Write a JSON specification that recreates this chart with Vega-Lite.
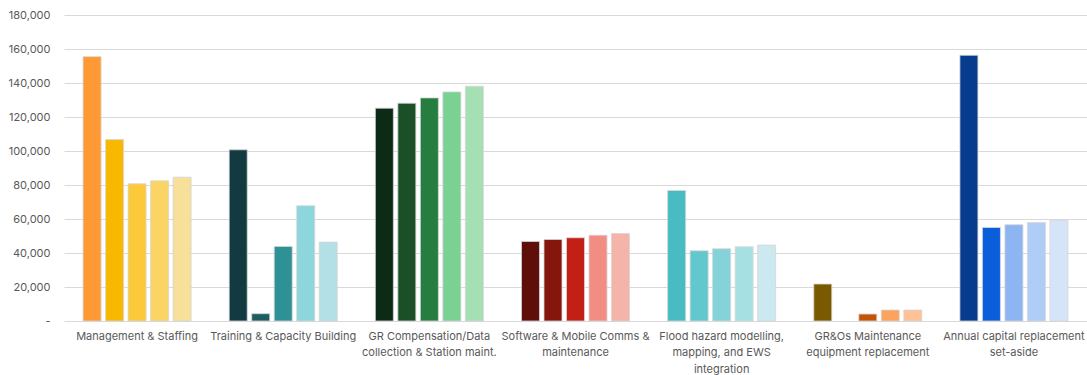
{
  "$schema": "https://vega.github.io/schema/vega-lite/v6.json",
  "autosize": "none",
  "width": 1023,
  "height": 306,
  "padding": {"left": 64, "top": 15, "right": 0, "bottom": 54},
  "background": "white",
  "config": {"view": {"stroke": null}, "font": "Inter"},
  "data": {"values": [
    {"cat": "Management & Staffing", "s": "Y1", "v": 155500, "c": "#FF9933"},
    {"cat": "Management & Staffing", "s": "Y2", "v": 106700, "c": "#F9B800"},
    {"cat": "Management & Staffing", "s": "Y3", "v": 80700, "c": "#FCC93A"},
    {"cat": "Management & Staffing", "s": "Y4", "v": 82450, "c": "#FAD565"},
    {"cat": "Management & Staffing", "s": "Y5", "v": 84600, "c": "#F7E09A"},
    {"cat": "Training & Capacity Building", "s": "Y1", "v": 100700, "c": "#133A40"},
    {"cat": "Training & Capacity Building", "s": "Y2", "v": 4300, "c": "#1E5E60"},
    {"cat": "Training & Capacity Building", "s": "Y3", "v": 43850, "c": "#2E9196"},
    {"cat": "Training & Capacity Building", "s": "Y4", "v": 67750, "c": "#8DD6DC"},
    {"cat": "Training & Capacity Building", "s": "Y5", "v": 46400, "c": "#B3E0E6"},
    {"cat": "GR Compensation/Data|collection & Station maint.", "s": "Y1", "v": 125200, "c": "#0D2A17"},
    {"cat": "GR Compensation/Data|collection & Station maint.", "s": "Y2", "v": 128100, "c": "#1A4F28"},
    {"cat": "GR Compensation/Data|collection & Station maint.", "s": "Y3", "v": 131250, "c": "#257E40"},
    {"cat": "GR Compensation/Data|collection & Station maint.", "s": "Y4", "v": 134750, "c": "#79D292"},
    {"cat": "GR Compensation/Data|collection & Station maint.", "s": "Y5", "v": 138100, "c": "#A5E0B4"},
    {"cat": "Software & Mobile Comms &|maintenance", "s": "Y1", "v": 46800, "c": "#5E0F0A"},
    {"cat": "Software & Mobile Comms &|maintenance", "s": "Y2", "v": 47950, "c": "#84160E"},
    {"cat": "Software & Mobile Comms &|maintenance", "s": "Y3", "v": 48950, "c": "#C41F17"},
    {"cat": "Software & Mobile Comms &|maintenance", "s": "Y4", "v": 50500, "c": "#F28D84"},
    {"cat": "Software & Mobile Comms &|maintenance", "s": "Y5", "v": 51500, "c": "#F4B4AA"},
    {"cat": "Flood hazard modelling,|mapping, and EWS|integration", "s": "Y1", "v": 76750, "c": "#48BBC3"},
    {"cat": "Flood hazard modelling,|mapping, and EWS|integration", "s": "Y2", "v": 41300, "c": "#63C7CE"},
    {"cat": "Flood hazard modelling,|mapping, and EWS|integration", "s": "Y3", "v": 42500, "c": "#83D3D8"},
    {"cat": "Flood hazard modelling,|mapping, and EWS|integration", "s": "Y4", "v": 43650, "c": "#A6E0E2"},
    {"cat": "Flood hazard modelling,|mapping, and EWS|integration", "s": "Y5", "v": 44650, "c": "#CDE9F0"},
    {"cat": "GR&Os Maintenance|equipment replacement", "s": "Y1", "v": 21750, "c": "#7A5A00"},
    {"cat": "GR&Os Maintenance|equipment replacement", "s": "Y3", "v": 4100, "c": "#C45508"},
    {"cat": "GR&Os Maintenance|equipment replacement", "s": "Y4", "v": 6450, "c": "#FDA35E"},
    {"cat": "GR&Os Maintenance|equipment replacement", "s": "Y5", "v": 6450, "c": "#FFC296"},
    {"cat": "Annual capital replacement|set-aside", "s": "Y1", "v": 156300, "c": "#063B8E"},
    {"cat": "Annual capital replacement|set-aside", "s": "Y2", "v": 55000, "c": "#0A5ED9"},
    {"cat": "Annual capital replacement|set-aside", "s": "Y3", "v": 56600, "c": "#8DB5F2"},
    {"cat": "Annual capital replacement|set-aside", "s": "Y4", "v": 57950, "c": "#B0CDF7"},
    {"cat": "Annual capital replacement|set-aside", "s": "Y5", "v": 59350, "c": "#D6E4FA"}
  ]},
  "mark": {"type": "bar", "stroke": "#d6d6d6", "strokeWidth": 0.8},
  "encoding": {
    "x": {
      "field": "cat", "type": "nominal", "sort": null,
      "scale": {"paddingInner": 0.23, "paddingOuter": 0.115},
      "axis": {
        "title": null, "domain": false, "ticks": false, "labelAngle": 0,
        "labelExpr": "split(datum.label, '|')",
        "labelFontSize": 11, "labelColor": "#595959", "labelPadding": 9,
        "labelLineHeight": 16.5, "labelBaseline": "top", "labelLimit": 200
      }
    },
    "xOffset": {
      "field": "s", "type": "nominal",
      "scale": {"domain": ["Y1", "Y2", "Y3", "Y4", "Y5"], "paddingInner": 0.2, "paddingOuter": 0.1}
    },
    "y": {
      "field": "v", "type": "quantitative",
      "scale": {"domain": [0, 180000], "nice": false},
      "axis": {
        "title": null, "domain": false, "ticks": false,
        "values": [0, 20000, 40000, 60000, 80000, 100000, 120000, 140000, 160000, 180000],
        "labelExpr": "datum.value == 0 ? '-\u00a0\u00a0' : format(datum.value, ',')",
        "labelFontSize": 11, "labelColor": "#595959", "labelPadding": 14,
        "gridColor": "#d9d9d9", "gridWidth": 1
      }
    },
    "color": {"field": "c", "type": "nominal", "scale": null, "legend": null}
  }
}
